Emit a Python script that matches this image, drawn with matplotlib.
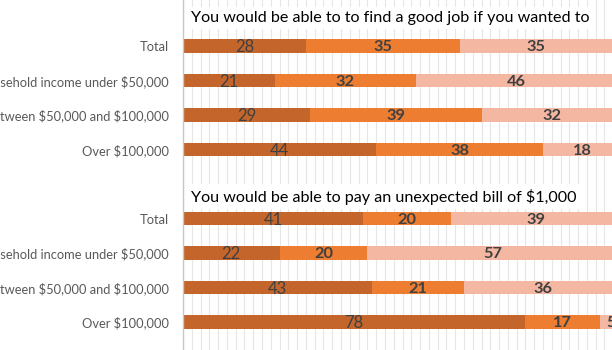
import matplotlib.pyplot as plt
import numpy as np

plt.rcParams["font.family"] = ["Lato", "DejaVu Sans"]
plt.rcParams["text.parse_math"] = False

# ==============================
# data
# ==============================
titles = [
    "You would be able to to find a good job if you wanted to",
    "You would be able to pay an unexpected bill of $1,000",
]
groups = [
    "Total",
    "Household income under $50,000",
    "Between $50,000 and $100,000",
    "Over $100,000",
]

# job question: three answer shares per group
job_a = [28, 21, 29, 44]
job_b = [35, 32, 39, 38]
job_c = [35, 46, 32, 18]

# bill question
bill_a = [41, 22, 43, 78]
bill_b = [20, 20, 21, 17]
bill_c = [39, 57, 36, 5]

panels = [(job_a, job_b, job_c), (bill_a, bill_b, bill_c)]
colors = ["#C4662B", "#ED7D31", "#F4B7A2"]
txt_color = "#404040"

# ==============================
# plot
# ==============================
fig = plt.figure(figsize=(6.12, 3.5), dpi=100)
# x scale runs past the right edge, like the cropped original
ax = fig.add_axes([183 / 612, 0, 439 / 612, 1])

ax.set_xlim(0, 100)
ax.set_ylim(9.81, -0.333)

yticks, ylabels = [], []
title_y = [0.30, 5.51]
for p, (a, b, c) in enumerate(panels):
    y = np.arange(1, 5) + p * 5
    left = np.zeros(4)
    for k, vals in enumerate((a, b, c)):
        vals = np.array(vals)
        ax.barh(y, vals, left=left, height=0.4, color=colors[k], zorder=2)
        for yi, l, v in zip(y, left, vals):
            ax.text(l + v / 2, yi + 0.04, str(v), ha="center", va="center",
                    color=txt_color, fontsize=12 if k == 0 else 11.8,
                    fontweight="normal" if k == 0 else "bold", zorder=3)
        left = left + vals
    yticks += list(y)
    ylabels += groups
    ax.text(1.8, title_y[p], titles[p], ha="left", va="baseline",
            fontsize=11.6, color="black", zorder=4,
            bbox=dict(facecolor="white", edgecolor="none", pad=3))

ax.set_yticks(yticks)
ax.set_yticklabels(ylabels, fontsize=9.3, color="#595959")
ax.tick_params(axis="y", length=0, pad=10)
ax.tick_params(axis="x", length=0, labelbottom=False)

ax.set_xticks(np.arange(0, 101, 2))
ax.grid(axis="x", color="#E6E6E6", linewidth=0.8, zorder=0)
ax.set_axisbelow(True)
for s in ["top", "right", "bottom"]:
    ax.spines[s].set_visible(False)
ax.spines["left"].set_color("#C8C8C8")
ax.spines["left"].set_linewidth(1)

plt.savefig("out.png", dpi=100)
